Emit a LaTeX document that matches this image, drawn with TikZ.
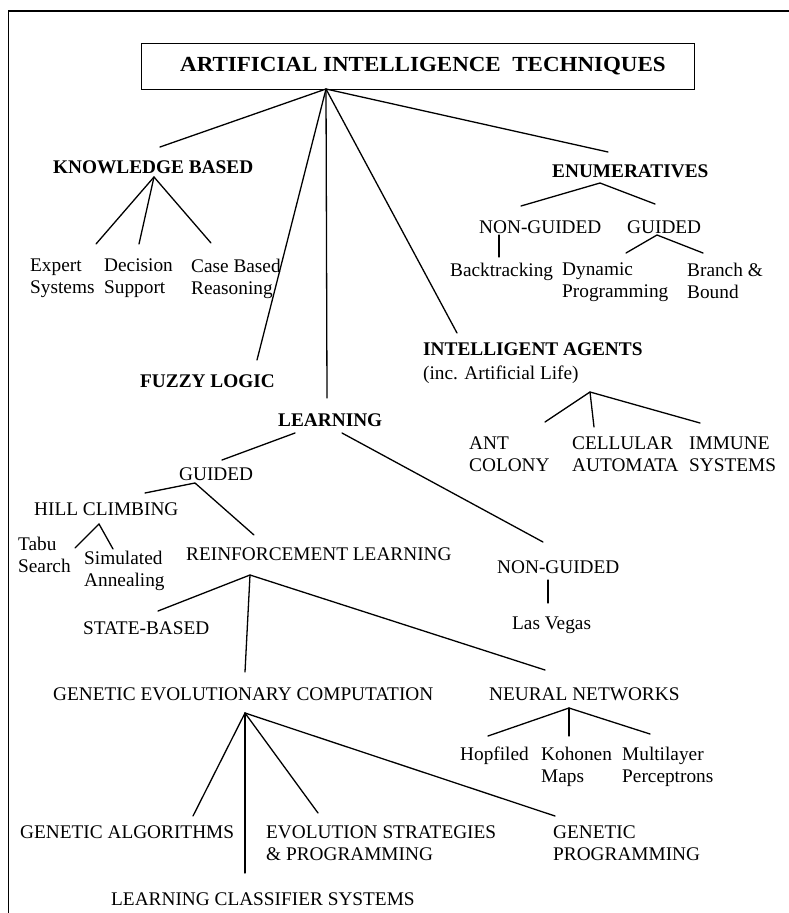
\documentclass[tikz,border=0pt]{standalone}
\usepackage{fontspec}
\setmainfont{Liberation Serif}
\begin{document}
\begin{tikzpicture}[x=1pt,y=-1pt,
  lbl/.style={anchor=north west, inner sep=0pt, align=left,
              font=\fontsize{19.3}{22.5}\selectfont},
  head/.style={lbl, font=\fontsize{19.3}{23}\selectfont\bfseries},
  link/.style={line width=1.3pt, line cap=round}]
\useasboundingbox (0,0) rectangle (789,913);
% page frame (top and left edges)
\draw[line width=1.3pt] (8.5,913) -- (8.5,11) -- (789,11);

% root
\node[draw, line width=1pt, minimum width=553pt, minimum height=46pt, inner sep=0pt,
      font=\fontsize{21.5}{24}\selectfont\bfseries] (root) at (418,66)
      {\hspace{10pt}\scalebox{1.07}[1]{ARTIFICIAL INTELLIGENCE\hspace{0.5em}TECHNIQUES}};

% first level
\node[head] (kb) at (53,160.5) {KNOWLEDGE BASED};
\node[head] (fuzzy) at (140,374.5) {FUZZY LOGIC};
\node[head] (learning) at (278,413.5) {LEARNING};
\node[head] (enum) at (552,164.5) {ENUMERATIVES};
\node[lbl, font=\fontsize{19.3}{24}\selectfont] (agents) at (423,342.5)
      {\textbf{INTELLIGENT AGENTS}\\(inc. Artificial Life)};

% knowledge based
\node[lbl] (expert) at (30,258.5) {Expert\\Systems};
\node[lbl] (decision) at (104,258.5) {Decision\\Support};
\node[lbl] (casebased) at (191,258.5) {Case Based\\Reasoning};

% enumeratives
\node[lbl] (enng) at (479,220.5) {NON-GUIDED};
\node[lbl] (eng) at (627,220.5) {GUIDED};
\node[lbl] (backtrack) at (450,262.5) {Backtracking};
\node[lbl] (dynprog) at (562,262.5) {Dynamic\\Programming};
\node[lbl] (bnb) at (687,262.5) {Branch \&\\Bound};

% intelligent agents
\node[lbl] (ant) at (469,436.5) {ANT\\COLONY};
\node[lbl] (cellular) at (572,436.5) {CELLULAR\\AUTOMATA};
\node[lbl] (immune) at (689,436.5) {IMMUNE\\SYSTEMS};

% learning
\node[lbl] (lguided) at (179,467.5) {GUIDED};
\node[lbl] (hill) at (34,502.5) {HILL CLIMBING};
\node[lbl] (tabu) at (18,536.5) {Tabu\\Search};
\node[lbl] (simann) at (84,550.5) {Simulated\\Annealing};
\node[lbl] (reinf) at (186,547.5) {REINFORCEMENT LEARNING};
\node[lbl] (lnonguided) at (497,560.5) {NON-GUIDED};
\node[lbl] (lasvegas) at (512,616.5) {Las Vegas};
\node[lbl] (state) at (83,621.5) {STATE-BASED};
\node[lbl] (gec) at (53,687.5) {GENETIC EVOLUTIONARY COMPUTATION};
\node[lbl] (neural) at (489,687.5) {NEURAL NETWORKS};
\node[lbl] (hopfield) at (460,746.5) {Hopfiled};
\node[lbl] (kohonen) at (541,746.5) {Kohonen\\Maps};
\node[lbl] (multilayer) at (622,746.5) {Multilayer\\Perceptrons};
\node[lbl] (ga) at (20,825.5) {GENETIC ALGORITHMS};
\node[lbl] (es) at (266,825.5) {EVOLUTION STRATEGIES\\\& PROGRAMMING};
\node[lbl] (gp) at (553,825.5) {GENETIC\\PROGRAMMING};
\node[lbl] (lcs) at (111,892.5) {LEARNING CLASSIFIER SYSTEMS};

% branching points and line ends
\coordinate (root-hub) at (326,89);
\coordinate (kb-in) at (160,147);
\coordinate (fuzzy-in) at (257,360);
\coordinate (learning-in) at (327,398);
\coordinate (agents-in) at (457,333);
\coordinate (enum-in) at (608,152);

\coordinate (kb-hub) at (154,177);
\coordinate (expert-in) at (96,244);
\coordinate (decision-in) at (139,244);
\coordinate (casebased-in) at (211,243);

\coordinate (enum-hub) at (600,183);
\coordinate (enng-in) at (521,206);
\coordinate (eng-in) at (655,204);
\coordinate (enng-hub) at (499,235);
\coordinate (backtrack-in) at (499,257);
\coordinate (eng-hub) at (657,235);
\coordinate (dynprog-in) at (626,253);
\coordinate (bnb-in) at (703,253);

\coordinate (agents-hub) at (590,392);
\coordinate (ant-in) at (545,422);
\coordinate (cellular-in) at (594,427);
\coordinate (immune-in) at (700,423);

\coordinate (learning-left) at (295,433);
\coordinate (learning-right) at (342,433);
\coordinate (lguided-in) at (222,460);
\coordinate (lnonguided-in) at (543,542);
\coordinate (lguided-hub) at (195,483);
\coordinate (hill-in) at (145,493);
\coordinate (reinf-in) at (254,535);
\coordinate (hill-hub) at (99,524);
\coordinate (tabu-in) at (75,548);
\coordinate (simann-in) at (113,549);
\coordinate (lnonguided-hub) at (548,580);
\coordinate (lasvegas-in) at (548,603);

\coordinate (reinf-hub) at (250,575);
\coordinate (state-in) at (158,611);
\coordinate (gec-in) at (245,672);
\coordinate (neural-in) at (545,670);

\coordinate (neural-hub) at (569,708);
\coordinate (hopfield-in) at (488,736);
\coordinate (kohonen-in) at (569,736);
\coordinate (multilayer-in) at (650,734);

\coordinate (gec-hub) at (245,713);
\coordinate (ga-in) at (193,816);
\coordinate (lcs-in) at (245,873);
\coordinate (es-in) at (318,813);
\coordinate (gp-in) at (555,816);

% connectors
\draw[link] (kb-in) -- (root-hub) -- (enum-in);
\draw[link] (root-hub) -- (fuzzy-in);
\draw[link] (root-hub) -- (learning-in);
\draw[link] (root-hub) -- (agents-in);

\draw[link] (expert-in) -- (kb-hub) -- (casebased-in);
\draw[link] (kb-hub) -- (decision-in);

\draw[link] (enng-in) -- (enum-hub) -- (eng-in);
\draw[link] (enng-hub) -- (backtrack-in);
\draw[link] (dynprog-in) -- (eng-hub) -- (bnb-in);

\draw[link] (ant-in) -- (agents-hub) -- (immune-in);
\draw[link] (agents-hub) -- (cellular-in);

\draw[link] (learning-left) -- (lguided-in);
\draw[link] (learning-right) -- (lnonguided-in);
\draw[link] (hill-in) -- (lguided-hub) -- (reinf-in);
\draw[link] (tabu-in) -- (hill-hub) -- (simann-in);
\draw[link] (lnonguided-hub) -- (lasvegas-in);

\draw[link] (state-in) -- (reinf-hub) -- (neural-in);
\draw[link] (reinf-hub) -- (gec-in);

\draw[link] (hopfield-in) -- (neural-hub) -- (multilayer-in);
\draw[link] (neural-hub) -- (kohonen-in);

\draw[link] (ga-in) -- (gec-hub) -- (gp-in);
\draw[link] (gec-hub) -- (lcs-in);
\draw[link] (gec-hub) -- (es-in);
\end{tikzpicture}
\end{document}
